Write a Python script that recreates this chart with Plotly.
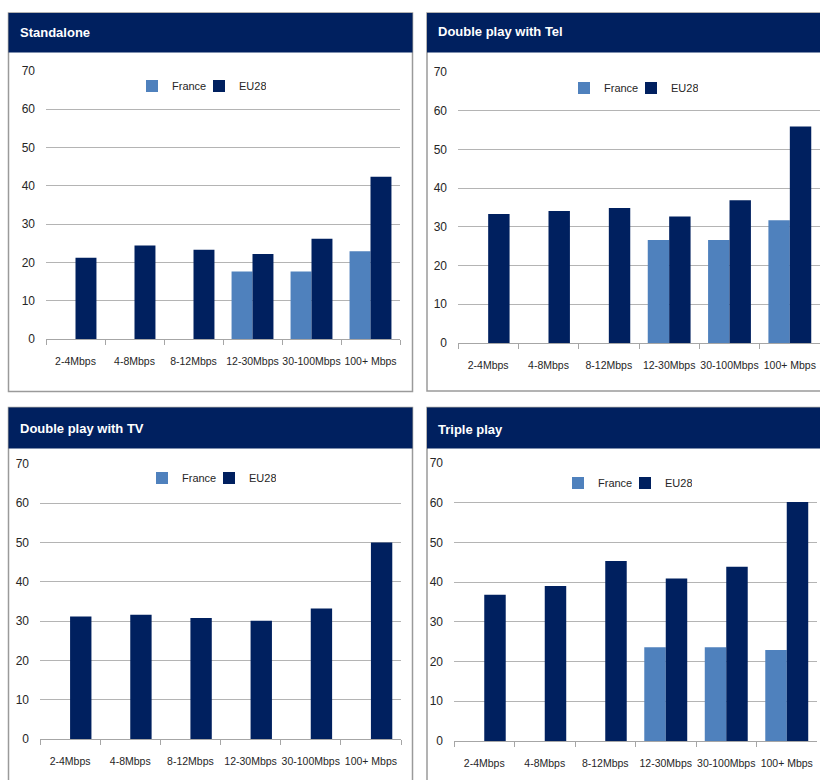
import plotly.graph_objects as go

W, H = 820, 780

categories = ["2-4Mbps", "4-8Mbps", "8-12Mbps", "12-30Mbps", "30-100Mbps", "100+ Mbps"]
y_ticks = [0, 10, 20, 30, 40, 50, 60, 70]

panel_titles = ["Standalone", "Double play with Tel", "Double play with TV", "Triple play"]

standalone_france = [None, None, None, 17.6, 17.6, 22.9]
standalone_eu28 = [21.2, 24.4, 23.3, 22.2, 26.2, 42.4]

dp_tel_france = [None, None, None, 26.6, 26.6, 31.7]
dp_tel_eu28 = [33.3, 34.1, 34.9, 32.7, 36.9, 55.9]

dp_tv_france = [None, None, None, None, None, None]
dp_tv_eu28 = [31.2, 31.6, 30.8, 30.1, 33.2, 50.0]

triple_france = [None, None, None, 23.6, 23.6, 22.9]
triple_eu28 = [36.8, 39.0, 45.3, 40.9, 43.9, 60.2]

france_values = [standalone_france, dp_tel_france, dp_tv_france, triple_france]
eu28_values = [standalone_eu28, dp_tel_eu28, dp_tv_eu28, triple_eu28]

NAVY = "#00205F"
LIGHT = "#4F81BD"
FONT = "Liberation Sans, Arial, sans-serif"


def fx(px):
    return px / W


def fy(py):
    return 1 - py / H


# plot areas in pixels: (x0, x1, ytop(70), ybottom(0))
areas = [
    (46, 400, 71, 339),
    (458, 820, 72, 343),
    (40, 401, 464, 739),
    (454, 817, 463, 741),
]
# panel boxes (x0, y0, x1, y1, band bottom)
boxes = [
    (8.5, 13, 412.5, 391.5, 52.5),
    (427, 13, 830, 391, 52.5),
    (8.5, 407.5, 412.5, 790, 448.5),
    (427, 407.5, 830, 790, 448.5),
]
title_pos = [(18, 33), (436, 32), (18, 428), (436, 429)]
legend_pos = [(199, 86), (631, 88), (209, 478), (625, 483)]

fig = go.Figure()
layout = dict(
    width=W,
    height=H,
    margin=dict(l=0, r=0, t=0, b=0, pad=0, autoexpand=False),
    paper_bgcolor="white",
    plot_bgcolor="white",
    barmode="group",
    bargap=0.29,
    bargroupgap=0.0,
    font=dict(family=FONT, color="#262626"),
    shapes=[],
    annotations=[],
)

for i in range(4):
    sfx = "" if i == 0 else str(i + 1)
    xa = "x" + sfx
    ya = "y" + sfx
    lg = "legend" + sfx
    fig.add_trace(go.Bar(
        x=categories, y=france_values[i], name="France",
        marker=dict(color=LIGHT, line=dict(width=0)),
        xaxis=xa, yaxis=ya, legend=lg, showlegend=True,
    ))
    fig.add_trace(go.Bar(
        x=categories, y=eu28_values[i], name="EU28",
        marker=dict(color=NAVY, line=dict(width=0)),
        xaxis=xa, yaxis=ya, legend=lg, showlegend=True,
    ))
    x0, x1, yt, yb = areas[i]
    layout["xaxis" + sfx] = dict(
        domain=[fx(x0), fx(x1)], anchor=ya, type="category",
        showline=True, linecolor="#a6a6a6", linewidth=1,
        ticks="outside", tickson="boundaries", ticklen=5, tickcolor="#a6a6a6",
        tickangle=0, automargin=False,
        tickfont=dict(size=10.5, family=FONT, color="#262626"),
        ticklabelstandoff=12, showgrid=False, fixedrange=True,
    )
    layout["yaxis" + sfx] = dict(
        domain=[fy(yb), fy(yt)], anchor=xa, range=[0, 70],
        tickvals=y_ticks, showgrid=True, gridcolor="#b4b4b4", gridwidth=1,
        zeroline=False, showline=False, ticks="", automargin=False,
        tickfont=dict(size=12, family=FONT, color="#262626"),
        ticklabelstandoff=10, fixedrange=True,
    )
    lx, ly = legend_pos[i]
    layout[lg] = dict(
        x=fx(lx), y=fy(ly), xanchor="center", yanchor="middle",
        orientation="h", bgcolor="rgba(0,0,0,0)",
        font=dict(size=11, family=FONT, color="#262626"),
        itemwidth=30, tracegroupgap=0, traceorder="normal",
        entrywidth=22, entrywidthmode="pixels",
    )
    bx0, by0, bx1, by1, band = boxes[i]
    layout["shapes"].append(dict(
        type="rect", xref="paper", yref="paper",
        x0=fx(bx0), x1=fx(bx1), y0=fy(by1), y1=fy(by0),
        line=dict(color="#9a9a9a", width=1.5), fillcolor="rgba(0,0,0,0)",
    ))
    layout["shapes"].append(dict(
        type="rect", xref="paper", yref="paper",
        x0=fx(bx0), x1=fx(bx1), y0=fy(band), y1=fy(by0),
        line=dict(color=NAVY, width=0), fillcolor=NAVY,
    ))
    tx, ty = title_pos[i]
    layout["annotations"].append(dict(
        text="<b>" + panel_titles[i] + "</b>", xref="paper", yref="paper",
        x=fx(tx), y=fy(ty), xanchor="left", yanchor="middle", showarrow=False,
        font=dict(size=13, family=FONT, color="white"),
    ))

fig.update_layout(**layout)
fig.write_html(
    "out.html",
    config={"displayModeBar": False},
    post_script=(
        "document.body.style.margin='0';"
        "document.body.style.overflow='hidden';"
    ),
)
